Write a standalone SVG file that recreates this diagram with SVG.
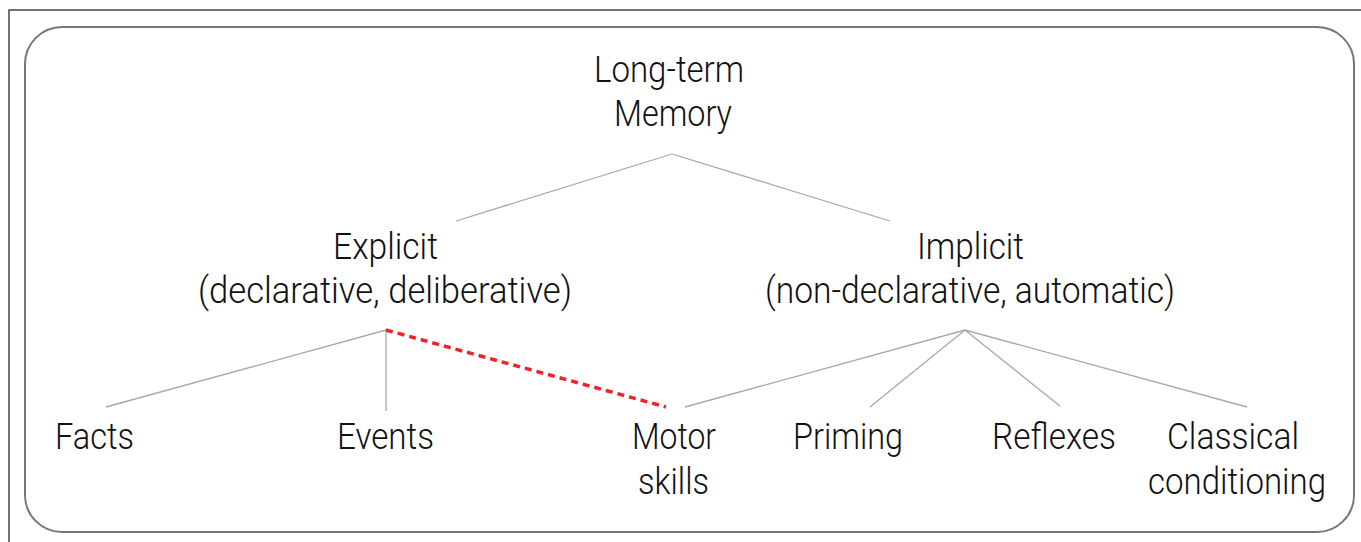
<svg xmlns="http://www.w3.org/2000/svg" width="1361" height="542" viewBox="0 0 1361 542">
<style>
.t{font-family:Roboto,"Liberation Sans",sans-serif;font-weight:300;font-size:37.5px;fill:#111;text-anchor:middle}
.c{stroke:#a8a8a8;stroke-width:1.3;fill:none}
.r{stroke:#ee2228;stroke-width:3.5;stroke-dasharray:7,5;fill:none}
</style>
<rect width="1361" height="542" fill="#fff"/>
<g id="frame">
<path d="M9 542 V10 H1361" fill="none" stroke="#444" stroke-width="1.5"/>
<rect x="25" y="27" width="1329" height="505" rx="37" ry="37" fill="none" stroke="#777" stroke-width="2"/>
</g>
<g id="connectors">
<line class="c" x1="672" y1="154" x2="456" y2="221"/>
<line class="c" x1="672" y1="154" x2="890" y2="221"/>
<line class="c" x1="386" y1="330" x2="106" y2="407"/>
<line class="c" x1="386" y1="330" x2="386" y2="411"/>
<line class="c" x1="965" y1="330" x2="685" y2="407"/>
<line class="c" x1="965" y1="330" x2="870" y2="407"/>
<line class="c" x1="965" y1="330" x2="1060" y2="406"/>
<line class="c" x1="965" y1="330" x2="1247" y2="407"/>
<line class="r" x1="386" y1="330" x2="666" y2="407"/>
</g>
<g id="ltm"><text class="t" x="669" y="82" textLength="150" lengthAdjust="spacingAndGlyphs">Long-term</text><text class="t" x="673" y="126" textLength="118" lengthAdjust="spacingAndGlyphs">Memory</text></g>
<g id="explicit"><text class="t" x="385.5" y="259" textLength="105" lengthAdjust="spacingAndGlyphs">Explicit</text><text class="t" x="385" y="303" textLength="374" lengthAdjust="spacingAndGlyphs">(declarative, deliberative)</text></g>
<g id="implicit"><text class="t" x="970.5" y="259" textLength="107" lengthAdjust="spacingAndGlyphs">Implicit</text><text class="t" x="970" y="303" textLength="410" lengthAdjust="spacingAndGlyphs">(non-declarative, automatic)</text></g>
<g id="facts"><text class="t" x="94.5" y="449" textLength="79" lengthAdjust="spacingAndGlyphs">Facts</text></g>
<g id="events"><text class="t" x="385.5" y="449" textLength="97" lengthAdjust="spacingAndGlyphs">Events</text></g>
<g id="motor"><text class="t" x="674" y="449" textLength="84" lengthAdjust="spacingAndGlyphs">Motor</text><text class="t" x="673.5" y="494" textLength="71" lengthAdjust="spacingAndGlyphs">skills</text></g>
<g id="priming"><text class="t" x="848" y="449" textLength="110" lengthAdjust="spacingAndGlyphs">Priming</text></g>
<g id="reflexes"><text class="t" x="1054" y="449" textLength="124" lengthAdjust="spacingAndGlyphs">Reflexes</text></g>
<g id="classical"><text class="t" x="1233" y="449" textLength="132" lengthAdjust="spacingAndGlyphs">Classical</text><text class="t" x="1237" y="494" textLength="178" lengthAdjust="spacingAndGlyphs">conditioning</text></g>
</svg>
